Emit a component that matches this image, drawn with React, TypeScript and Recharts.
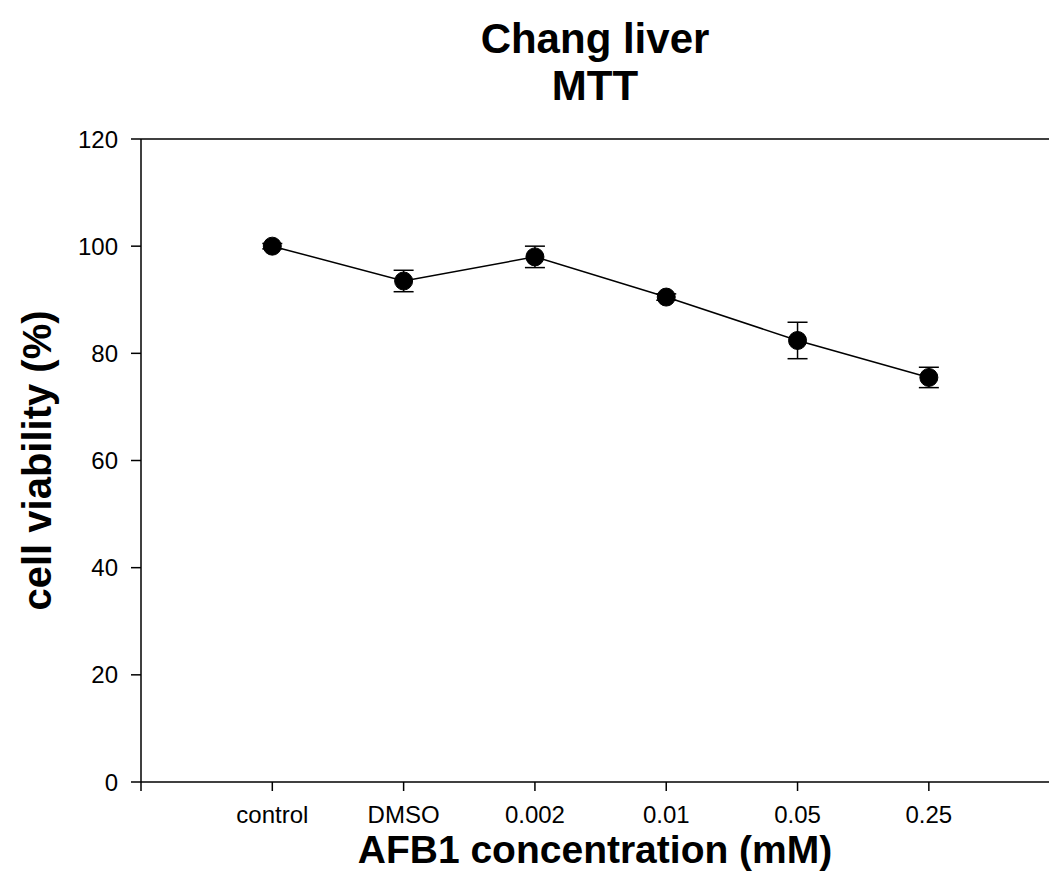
import { CartesianGrid, ErrorBar, Line, LineChart, ReferenceLine, XAxis, YAxis } from "recharts";

const categories = ["control", "DMSO", "0.002", "0.01", "0.05", "0.25"]
const viability = [100, 93.5, 98, 90.5, 82.4, 75.5]
const errors = [0.5, 2, 2, 0.6, 3.4, 1.9]
const yTicks = [0, 20, 40, 60, 80, 100, 120]

const font = "Arial, 'Liberation Sans', sans-serif"

const data = categories.map((c, i) => ({
    pos: i + 1,
    name: c,
    value: viability[i],
    err: errors[i],
}))

const xTicks = [0, ...categories.map((_, i) => i + 1)]

const App = () => {
    return (
        <div style={{ position: "absolute", left: 0, top: 0, width: 1049, height: 893, background: "#fff" }}>
            <div
                style={{
                    position: "absolute",
                    left: 141,
                    width: 908,
                    top: 15,
                    textAlign: "center",
                    fontFamily: font,
                    fontWeight: "bold",
                    fontSize: 42,
                    lineHeight: "47px",
                    color: "#000",
                }}
            >
                <div>Chang liver</div>
                <div>MTT</div>
            </div>
            <LineChart width={1049} height={893} data={data} margin={{ top: 139, right: 0, bottom: 0, left: 0 }}>
                <CartesianGrid stroke="none" />
                <XAxis
                    dataKey="pos"
                    type="number"
                    domain={[0, 6.915]}
                    allowDataOverflow
                    ticks={xTicks}
                    tickFormatter={(v: number) => (v >= 1 ? categories[v - 1] : "")}
                    height={111}
                    stroke="#000"
                    strokeWidth={1.5}
                    tickSize={9}
                    tickMargin={15}
                    tick={{ fill: "#000", fontSize: 24, fontFamily: font }}
                    label={{ value: "AFB1 concentration (mM)", position: "insideBottom", offset: 30, fill: "#000", fontSize: 39, fontWeight: "bold", fontFamily: font }}
                />
                <YAxis
                    type="number"
                    domain={[0, 120]}
                    ticks={yTicks}
                    width={141}
                    stroke="#000"
                    strokeWidth={1.5}
                    tickSize={10}
                    tickMargin={13}
                    tick={{ fill: "#000", fontSize: 24, fontFamily: font }}
                    label={{ value: "cell viability (%)", angle: -90, position: "insideLeft", offset: 37, textAnchor: "middle", fill: "#000", fontSize: 40, fontWeight: "bold", fontFamily: font }}
                />
                <ReferenceLine y={120} stroke="#000" strokeWidth={1.5} />
                <Line
                    dataKey="value"
                    stroke="#000"
                    strokeWidth={1.5}
                    dot={{ r: 9, fill: "#000", stroke: "#000", strokeWidth: 1 }}
                    activeDot={false}
                    isAnimationActive={false}
                >
                    <ErrorBar dataKey="err" width={10} stroke="#000" strokeWidth={1.5} direction="y" />
                </Line>
            </LineChart>
        </div>
    )
}

export default App
